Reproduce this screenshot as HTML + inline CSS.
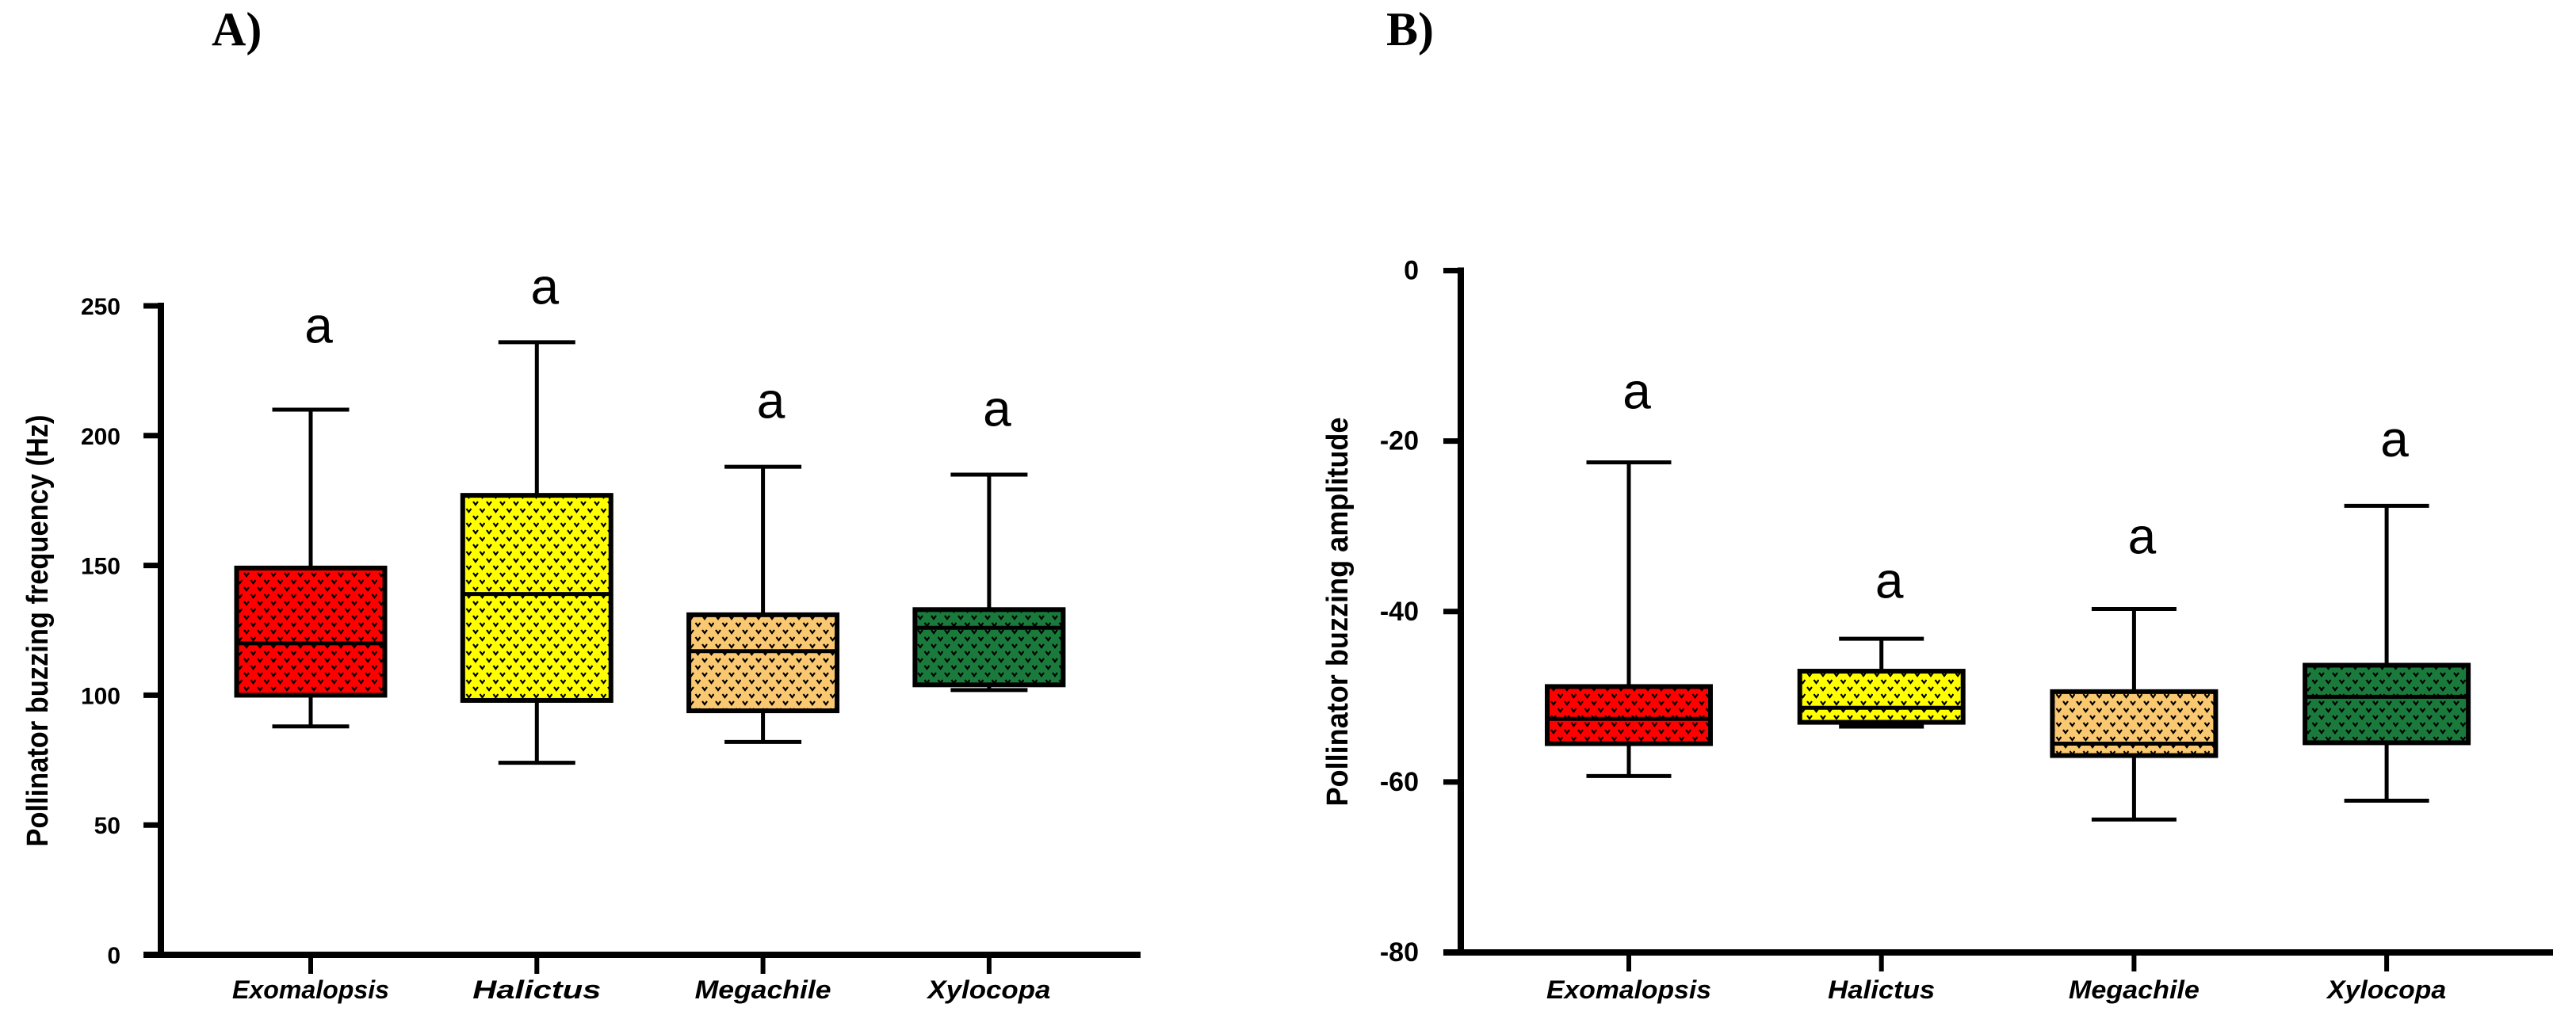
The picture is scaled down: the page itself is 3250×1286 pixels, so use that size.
<!DOCTYPE html>
<html><head><meta charset="utf-8"><style>
html,body{margin:0;padding:0;background:#fff;}
svg{display:block;}
text{font-family:"Liberation Sans",sans-serif;}
</style></head><body>
<svg id="chart" width="3250" height="1286" viewBox="0 0 3250 1286" xmlns="http://www.w3.org/2000/svg">
<defs>
<pattern id="dots" patternUnits="userSpaceOnUse" width="17" height="18">
<path d="M2 3 L5 7 L8 3" stroke="#000" stroke-width="2.2" fill="none"/>
<path d="M10.5 12 L13.5 16 L16.5 12" stroke="#000" stroke-width="2.2" fill="none"/>
</pattern>
</defs>
<text x="267" y="57" font-weight="bold" font-size="60" style="font-family:'Liberation Serif',serif">A)</text>
<text x="1749" y="57" font-weight="bold" font-size="60" style="font-family:'Liberation Serif',serif">B)</text>
<g id="pa"></g>
<g id="pb"></g>
</svg>
<script>
const categories = ["Exomalopsis","Halictus","Megachile","Xylocopa"];
const colors = ["#ff0000","#ffff00","#f9c870","#1a7a3c"];
// Panel A: buzzing frequency (Hz) [min, q1, median, q3, max]
const freqMin = [88, 74, 82, 102];
const freqQ1 = [100, 98, 94, 104];
const freqMed = [120, 139, 117, 126];
const freqQ3 = [149, 177, 131, 133];
const freqMax = [210, 236, 188, 185];
const freqTicks = [0, 50, 100, 150, 200, 250];
const freqLetterVals = [241, 256, 212, 209];
// Panel B: buzzing amplitude
const ampMin = [-59.3, -53.5, -64.4, -62.2];
const ampQ1 = [-55.5, -53.0, -56.9, -55.4];
const ampMed = [-52.6, -51.3, -55.5, -50.0];
const ampQ3 = [-48.8, -47.0, -49.4, -46.3];
const ampMax = [-22.5, -43.2, -39.7, -27.6];
const ampTicks = [0, -20, -40, -60, -80];
const ampLetterVals = [-14.6, -36.8, -31.6, -20.2];
const letters = ["a","a","a","a"];

const NS="http://www.w3.org/2000/svg";
function mk(parent, tag, attrs, txt){
  const e=document.createElementNS(NS,tag);
  for(const k in attrs) e.setAttribute(k, attrs[k]);
  if(txt!==undefined) e.textContent=txt;
  parent.appendChild(e); return e;
}

function panel(g, cfg){
  const y = v => cfg.y0 + (v - cfg.vmin)/(cfg.vmax - cfg.vmin)*(cfg.y1 - cfg.y0);
  const x = i => cfg.x0 + i*cfg.dx;
  let e=mk(g,'line',{x1:cfg.ax,y1:y(cfg.vmax)-4,x2:cfg.ax,y2:cfg.axY+4,stroke:'#000','stroke-width':8});
  
  
  e=mk(g,'line',{x1:cfg.ax-22,y1:cfg.axY,x2:cfg.axEnd,y2:cfg.axY,stroke:'#000','stroke-width':8});
  
  
  cfg.ticks.forEach(t=>{
    const yy=y(t);
    let l=mk(g,'line',{x1:cfg.ax-22,y1:yy,x2:cfg.ax,y2:yy,stroke:'#000','stroke-width':7});
    
    
    let tx=mk(g,'text',{x:cfg.tickRight,y:yy+11,'text-anchor':'end','font-size':cfg.tickFont,'font-weight':'bold'},String(t));
    
    
  });
  let ti=mk(g,'text',{x:0,y:0,transform:`translate(${cfg.titleX},${cfg.titleY}) rotate(-90)`,'text-anchor':'middle','font-size':38,'font-weight':'bold',textLength:cfg.titleLen,lengthAdjust:'spacingAndGlyphs'},cfg.title);
  
  
  categories.forEach((c,i)=>{
    const cx=x(i);
    let t=mk(g,'line',{x1:cx,y1:cfg.axY,x2:cx,y2:cfg.axY+24,stroke:'#000','stroke-width':6});
    
    
    let lb=mk(g,'text',{x:cx,y:1260,'text-anchor':'middle','font-size':32,'font-weight':'bold','font-style':'italic',textLength:cfg.labLen[i],lengthAdjust:'spacingAndGlyphs'},c);
    
    
    const bg=mk(g,'g',{});
    
    
    const hw=cfg.boxW/2, cw=cfg.capW/2;
    mk(bg,'line',{x1:cx,y1:y(cfg.max[i]),x2:cx,y2:y(cfg.q3[i]),stroke:'#000','stroke-width':5});
    mk(bg,'line',{x1:cx,y1:y(cfg.q1[i]),x2:cx,y2:y(cfg.min[i]),stroke:'#000','stroke-width':5});
    mk(bg,'line',{x1:cx-cw,y1:y(cfg.max[i]),x2:cx+cw,y2:y(cfg.max[i]),stroke:'#000','stroke-width':5});
    mk(bg,'line',{x1:cx-cw,y1:y(cfg.min[i]),x2:cx+cw,y2:y(cfg.min[i]),stroke:'#000','stroke-width':5});
    const top=y(cfg.q3[i]), bot=y(cfg.q1[i]);
    mk(bg,'rect',{x:cx-hw,y:top,width:cfg.boxW,height:bot-top,fill:colors[i]});
    mk(bg,'rect',{x:cx-hw,y:top,width:cfg.boxW,height:bot-top,fill:'url(#dots)',stroke:'#000','stroke-width':6});
    mk(bg,'line',{x1:cx-hw,y1:y(cfg.med[i]),x2:cx+hw,y2:y(cfg.med[i]),stroke:'#000','stroke-width':5});
    let a=mk(g,'text',{x:cx+10,y:y(cfg.letters[i])+17,'text-anchor':'middle','font-size':64},letters[i]);
    
    
  });
}
panel(document.getElementById('pa'),{vmin:0,vmax:250,y0:1205,y1:386,ax:203,axY:1205,axEnd:1439,
  x0:392,dx:285.3,boxW:187,capW:97,ticks:freqTicks,tickRight:152,tickFont:30,
  min:freqMin,q1:freqQ1,med:freqMed,q3:freqQ3,max:freqMax,letters:freqLetterVals,
  title:"Pollinator buzzing frequency (Hz)",titleX:60,titleY:796,titleLen:545,labLen:[198,162,172,155]});
panel(document.getElementById('pb'),{vmin:-80,vmax:0,y0:1202,y1:341.5,ax:1843,axY:1202,axEnd:3221,
  x0:2055,dx:318.7,boxW:206,capW:107,ticks:ampTicks,tickRight:1790,tickFont:34,
  min:ampMin,q1:ampQ1,med:ampMed,q3:ampQ3,max:ampMax,letters:ampLetterVals,
  title:"Pollinator buzzing amplitude",titleX:1700,titleY:772,titleLen:491,labLen:[208,135,165,150]});
</script>
</body></html>
